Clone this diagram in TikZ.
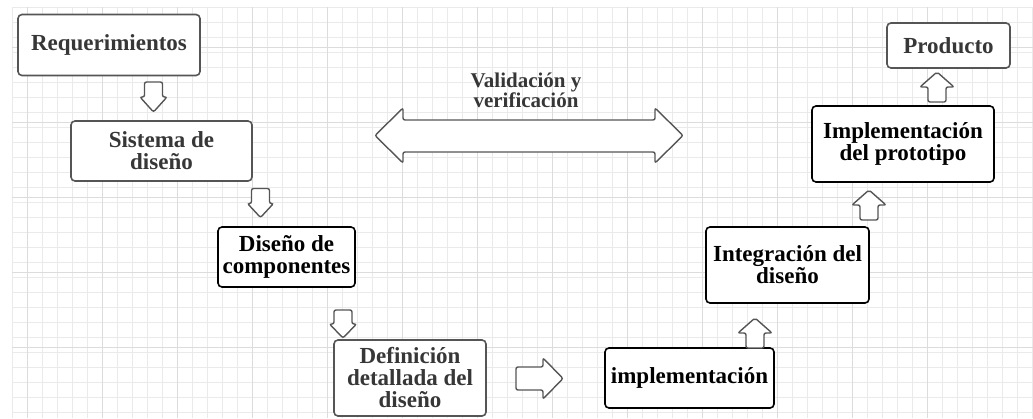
\documentclass[tikz,border=0pt]{standalone}
\usepackage{fontspec}
\setmainfont{Liberation Serif}
\usetikzlibrary{calc}

\definecolor{gridgray}{RGB}{234,234,234}
\definecolor{gridmajor}{RGB}{220,220,220}
\definecolor{boxgray}{RGB}{85,85,85}
\definecolor{textgray}{RGB}{55,55,55}

\tikzset{
  etapa/.style={draw=black,line width=1.6pt,rounded corners=4pt,fill=white,
    align=center,inner sep=0pt,
    font=\fontsize{23}{22}\selectfont\bfseries},
  etapagris/.style={etapa,draw=boxgray,text=textgray},
  flechaline/.style={draw=boxgray,line width=1.4pt,fill=white,rounded corners=2pt},
  % block arrow pointing down: {length}{body width}{head width}{head length}
  pics/flecha/.style n args={4}{code={
    \draw[flechaline] (-#2/2,-#1/2) -- (#2/2,-#1/2) -- (#2/2,#1/2-#4)
      -- (#3/2,#1/2-#4) -- (0,#1/2) -- (-#3/2,#1/2-#4) -- (-#2/2,#1/2-#4) -- cycle;
  }}
}

\begin{document}
\begin{tikzpicture}[x=1pt,y=-1pt]

\useasboundingbox (0,0) rectangle (1033,418);

% grid
\foreach \gx in {12,27,...,1032} \draw[gridgray,line width=0.8pt] (\gx,7) -- (\gx,418);
\foreach \gy in {7,22,...,417} \draw[gridgray,line width=0.8pt] (12,\gy) -- (1033,\gy);
\foreach \gx in {27,102,...,1000} \draw[gridmajor,line width=0.9pt] (\gx,7) -- (\gx,418);
\foreach \gy in {47,122,...,400} \draw[gridmajor,line width=0.9pt] (12,\gy) -- (1033,\gy);

% stages
\node[etapagris,minimum width=182,minimum height=61] (req) at (109,45) {Requerimientos};
\node[etapagris,minimum width=181,minimum height=60] (sis) at (161.5,151) {Sistema de\\dise\~no};
\node[etapa,minimum width=137,minimum height=60] (comp) at (286.5,257) {Dise\~no de\\componentes};
\node[etapagris,minimum width=152,minimum height=76] (def) at (410,378) {Definici\'on\\detallada del\\dise\~no};
\node[etapa,minimum width=169,minimum height=60] (impl) at (689.5,378) {implementaci\'on};
\node[etapa,minimum width=163,minimum height=76] (integ) at (787.5,265) {Integraci\'on del\\dise\~no};
\node[etapa,minimum width=182,minimum height=76] (proto) at (903,144) {Implementaci\'on\\del prototipo};
\node[etapagris,minimum width=123,minimum height=45] (prod) at (948.5,45.5) {Producto};

% arrows between stages
\pic at (153.5,97) {flecha={30}{18}{27}{15}};
\pic at (260.5,203) {flecha={29}{18}{26}{14}};
\pic at (343,324) {flecha={28}{18}{27}{14}};
\pic[rotate=90] at (539.5,378.5) {flecha={47}{23}{41}{20}};
\pic[rotate=180] at (755,333) {flecha={30}{18}{34}{15}};
\pic[rotate=180] at (869,205) {flecha={30}{18}{34}{15}};
\pic[rotate=180] at (937,87) {flecha={30}{18}{34}{15}};

% validation arrow
\draw[flechaline] (375,135.5) -- (403,108) -- (403,120) -- (655,120) -- (655,108)
  -- (683,135.5) -- (655,163) -- (655,152) -- (403,152) -- (403,163) -- cycle;
\node[align=center,text=textgray,font=\fontsize{21}{20}\selectfont\bfseries] (val) at (526,90)
  {Validaci\'on y\\verificaci\'on};

\end{tikzpicture}
\end{document}
